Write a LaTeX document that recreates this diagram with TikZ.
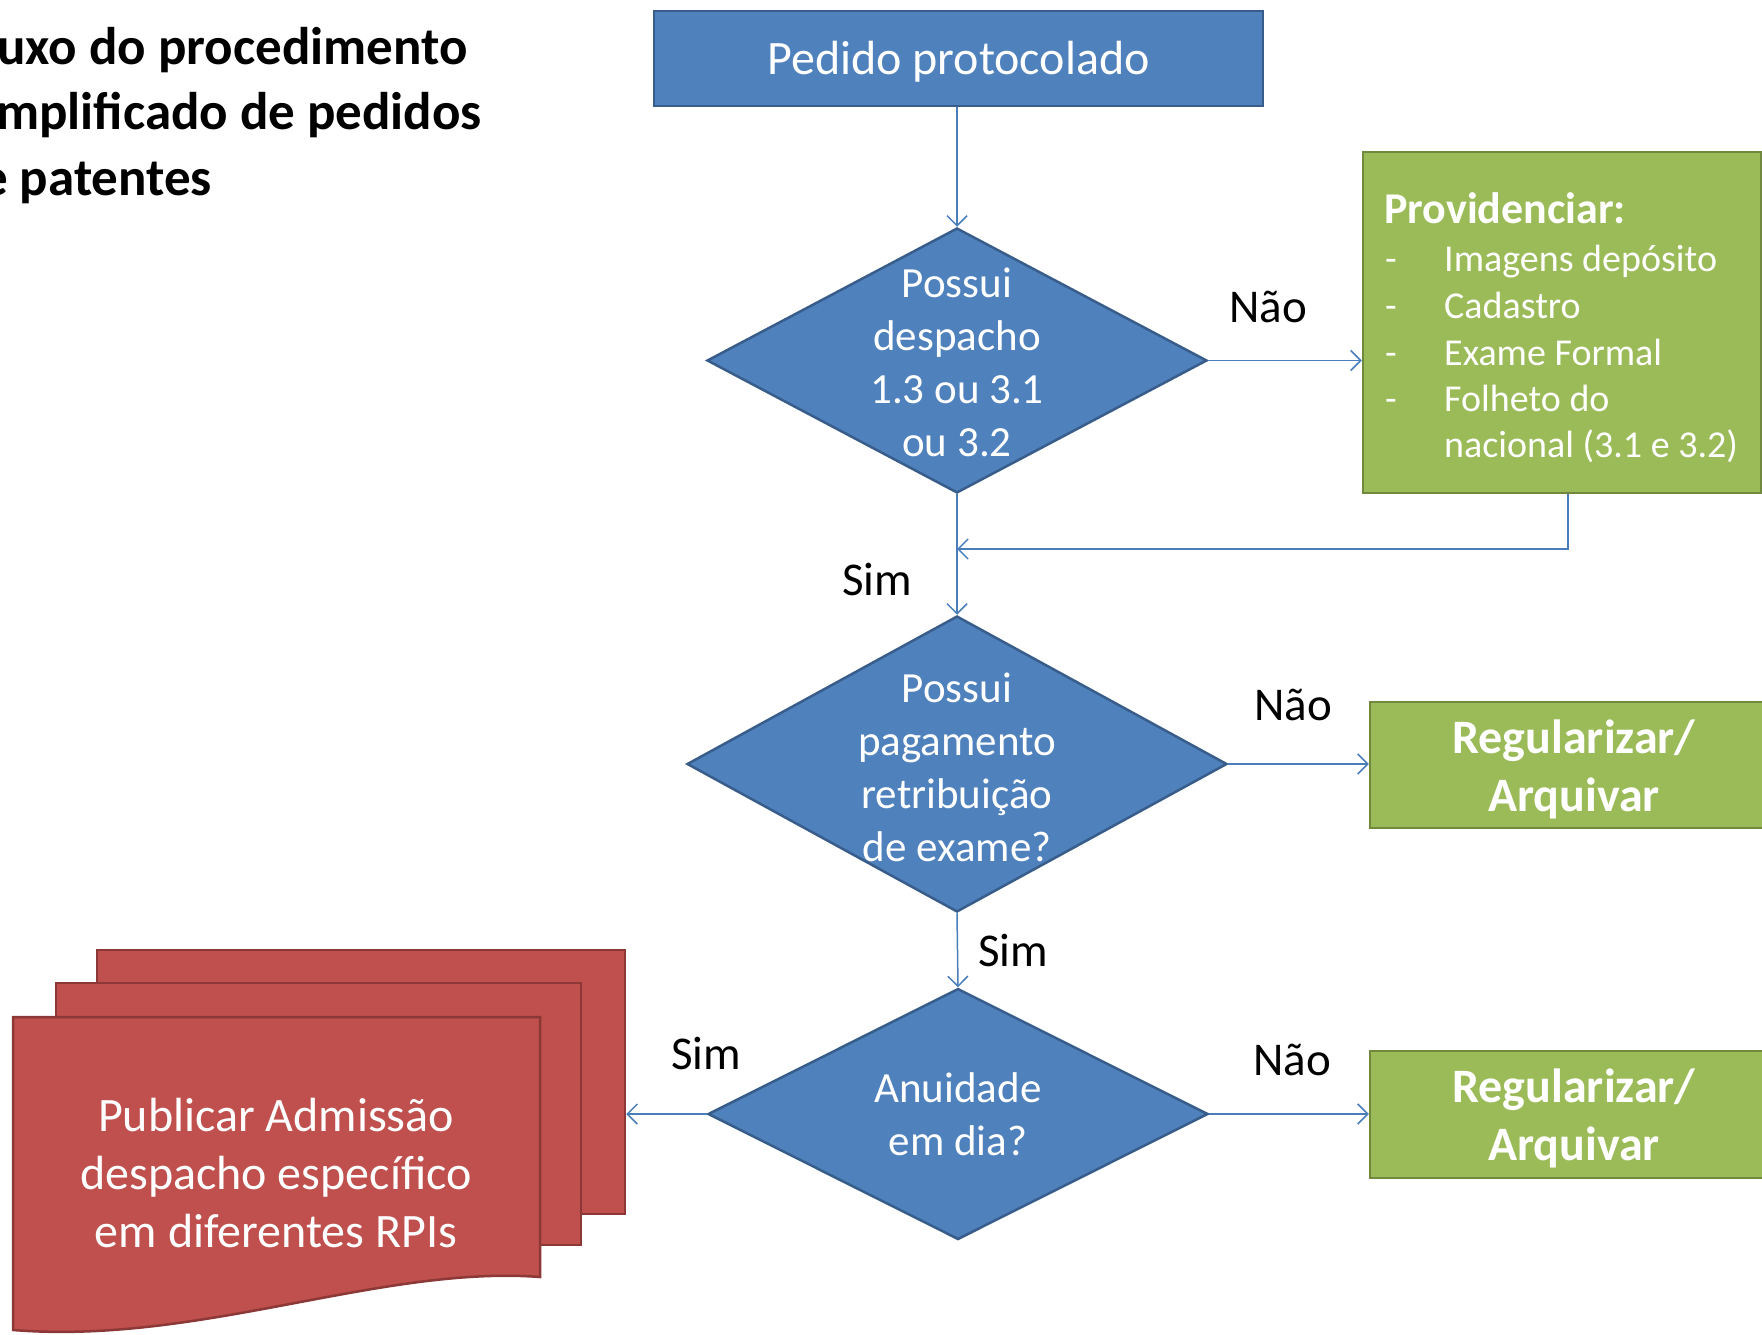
\documentclass[tikz,border=0pt]{standalone}
\usepackage{fontspec}
\setmainfont{Carlito}
\usetikzlibrary{arrows.meta,shapes.geometric}
\definecolor{blueF}{HTML}{4F81BD}
\definecolor{blueD}{HTML}{385D8A}
\definecolor{greenF}{HTML}{9BBB59}
\definecolor{greenD}{HTML}{71893F}
\definecolor{redF}{HTML}{C0504D}
\definecolor{redD}{HTML}{8C3836}
\definecolor{conn}{HTML}{4A7EBB}
\newcommand\ftitle{\fontsize{53}{65}\selectfont\bfseries}
\newcommand\fdia{\fontsize{43}{53}\selectfont}
\newcommand\flab{\fontsize{47}{57}\selectfont}
\newcommand\fbig{\fontsize{48}{58}\selectfont}
\newcommand\fgreen{\fontsize{48}{58}\selectfont\bfseries}
\newcommand\fhead{\fontsize{44}{52}\selectfont\bfseries}
\newcommand\fitem{\fontsize{38}{46}\selectfont}
\begin{document}
\begin{tikzpicture}[x=1pt,y=-1pt,
  bluebox/.style={draw=blueD,fill=blueF,line width=2.5pt,inner sep=0pt},
  dia/.style={diamond,draw=blueD,fill=blueF,line width=2.5pt,inner sep=0pt},
  greenbox/.style={draw=greenD,fill=greenF,line width=2.5pt,inner sep=0pt},
  redpage/.style={draw=redD,fill=redF,line width=2.5pt,inner sep=0pt},
  wtext/.style={text=white,align=center,inner sep=0pt},
  lab/.style={font=\flab,text=black,anchor=base,inner sep=0pt},
  titletext/.style={font=\ftitle,text=black,anchor=base west,inner sep=0pt},
  itemtext/.style={font=\fitem,text=white,anchor=base west,inner sep=0pt},
  arr/.style={draw=conn,line width=1.5pt,-{Straight Barb[length=10pt,width=20pt,line width=1.5pt]}}]
\useasboundingbox (0,0) rectangle (1762,1335);

% title
\node[titletext] (t1) at (-3,65) {uxo do procedimento};
\node[titletext] (t2) at (-4,130) {mplificado de pedidos};
\node[titletext] (t3) at (-19,195) {e patentes};

% top box
\node[bluebox,minimum width=609pt,minimum height=95pt] (top) at (958.5,58.5) {};
\node[wtext,font=\fbig] (topt) at ([yshift=-3pt]top.center) {Pedido protocolado};

% diamonds
\node[dia,minimum width=500pt,minimum height=265pt] (d1) at (957,360.5) {};
\node[wtext,font=\fdia] (d1t) at ([yshift=-2pt]d1.center) {Possui\\despacho\\1.3 ou 3.1\\ou 3.2};
\node[dia,minimum width=540pt,minimum height=296pt] (d2) at (957,764) {};
\node[wtext,font=\fdia] (d2t) at ([yshift=-3pt]d2.center) {Possui\\pagamento\\retribuição\\de exame?};
\node[dia,minimum width=500pt,minimum height=251pt] (d3) at (958,1114) {};
\node[wtext,font=\fdia,align=center] (d3t) at (d3.center) {\fontsize{43}{56}\selectfont Anuidade\\em dia?};

% green boxes
\node[greenbox,minimum width=398pt,minimum height=341pt] (g1) at (1562,322.5) {};
\node[itemtext,font=\fhead] (g1h) at (1384,223) {Providenciar:};
\node[itemtext] (g1d1) at (1385,271) {-};
\node[itemtext] (g1i1) at (1444,271) {Imagens depósito};
\node[itemtext] (g1d2) at (1385,318) {-};
\node[itemtext] (g1i2) at (1444,318) {Cadastro};
\node[itemtext] (g1d3) at (1385,365) {-};
\node[itemtext] (g1i3) at (1444,365) {Exame Formal};
\node[itemtext] (g1d4) at (1385,411) {-};
\node[itemtext] (g1i4) at (1444,411) {Folheto do};
\node[itemtext] (g1i5) at (1444,457) {nacional (3.1 e 3.2)};

\node[greenbox,minimum width=408pt,minimum height=126pt] (g2) at (1574,765) {};
\node[wtext,font=\fgreen] (g2t) at ([yshift=-4pt]g2.center) {Regularizar/\\Arquivar};
\node[greenbox,minimum width=408pt,minimum height=127pt] (g3) at (1574,1114.5) {};
\node[wtext,font=\fgreen] (g3t) at ([yshift=-4pt]g3.center) {Regularizar/\\Arquivar};

% multi-document
\node[redpage,minimum width=528pt,minimum height=264pt] (p3) at (361,1082) {};
\node[redpage,minimum width=525pt,minimum height=262pt] (p2) at (318.5,1114) {};
\draw[redpage] (13,1017) -- (540,1017) -- (540,1277)
  .. controls (380,1265) and (200,1345) .. (13,1330) -- cycle;
\node[wtext,font=\fbig,align=center] (doct) at (276,1173) {\fontsize{48}{59}\selectfont Publicar Admissão\\despacho específico\\em diferentes RPIs};

% connectors
\draw[arr] (top.south -| d1.north) -- (d1.north);
\draw[arr] (d1.east) -- (d1.east -| g1.west);
\coordinate (ret) at (1568,549);
\draw[arr] (g1.south -| ret) -- (ret) -- (ret -| d1.south);
\draw[arr] (d1.south) -- (d2.north);
\draw[arr] (d2.east) -- (d2.east -| g2.west);
\draw[arr] (d2.south) -- (d3.north);
\draw[arr] (d3.east) -- (d3.east -| g3.west);
\draw[arr] (d3.west) -- (d3.west -| p3.east);

% labels
\node[lab] (l1) at (1268,322) {Não};
\node[lab] (l2) at (877,595) {Sim};
\node[lab] (l3) at (1293,720) {Não};
\node[lab] (l4) at (1013,966) {Sim};
\node[lab] (l5) at (706,1069) {Sim};
\node[lab] (l6) at (1292,1075) {Não};
\end{tikzpicture}
\end{document}
